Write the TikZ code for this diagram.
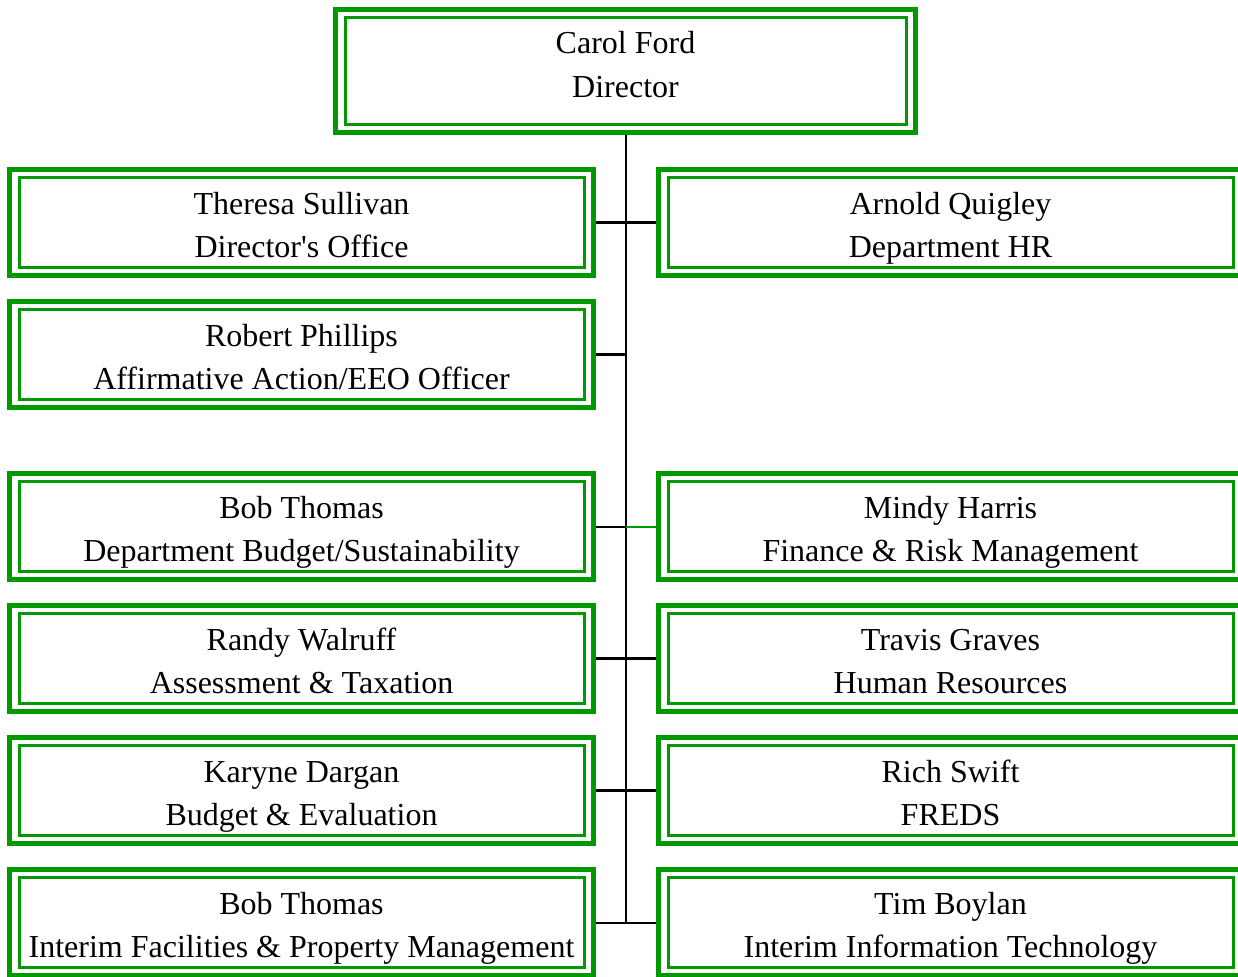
\documentclass[tikz,border=0pt]{standalone}
\usepackage{fontspec}
\setmainfont{Liberation Serif}
\usepackage{xcolor}
\usepackage{tikz}
\definecolor{boxgreen}{RGB}{0,153,0}

\begin{document}
\begin{tikzpicture}[x=0.5pt,y=-0.5pt]
\tikzset{thickline/.style={draw=black,line width=1.5pt}}
\tikzset{thinline/.style={draw=black,line width=1pt}}
\tikzstyle{person} =[rectangle, draw=boxgreen, line width=2.5pt, minimum width=292pt, minimum height=53pt, inner sep=0pt, align=center, text height=35pt, text depth=0pt, font=\fontsize{16}{21.75}\selectfont,
  append after command={\pgfextra{\draw[boxgreen,line width=1.5pt] ([shift={(6pt,-5.25pt)}]\tikzlastnode.north west) rectangle ([shift={(-6pt,5.25pt)}]\tikzlastnode.south east);}}]

\useasboundingbox (0,0) rectangle (1238,976);

\node[person,minimum width=290pt,minimum height=61.5pt,text height=26pt](ford) at (625.5,71){Carol Ford\\Director};
\node[person](sullivan) at (301.5,222.5){Theresa Sullivan\\Director\textquotesingle s Office};
\node[person](quigley) at (950.5,222.5){Arnold Quigley\\Department HR};
\node[person](phillips) at (301.5,354.5){Robert Phillips\\Affirmative Action/EEO Officer};
\node[person](thomasA) at (301.5,526.5){Bob Thomas\\Department Budget/Sustainability};
\node[person](harris) at (950.5,526.5){Mindy Harris\\Finance \& Risk Management};
\node[person](walruff) at (301.5,658.5){Randy Walruff\\Assessment \& Taxation};
\node[person](graves) at (950.5,658.5){Travis Graves\\Human Resources};
\node[person](dargan) at (301.5,790.5){Karyne Dargan\\Budget \& Evaluation};
\node[person](swift) at (950.5,790.5){Rich Swift\\FREDS};
\node[person](thomasB) at (301.5,922.5){Bob Thomas\\Interim Facilities \& Property Management};
\node[person](boylan) at (950.5,922.5){Tim Boylan\\Interim Information Technology};

\coordinate (foot) at (ford.south |- boylan.west);
\coordinate (branch) at (ford.south |- harris.west);
\draw [thinline] (ford.south) to (foot);
\draw [thickline] (sullivan.east) to (quigley.west);
\draw [thickline] (phillips.east) to (phillips.east -| ford.south);
\draw [thinline] (thomasA.east) to (branch);
\draw [thinline,draw=boxgreen] (branch) to (harris.west);
\draw [thickline] (walruff.east) to (graves.west);
\draw [thickline] (dargan.east) to (swift.west);
\draw [thinline] (thomasB.east) to (boylan.west);
\end{tikzpicture}
\end{document}
